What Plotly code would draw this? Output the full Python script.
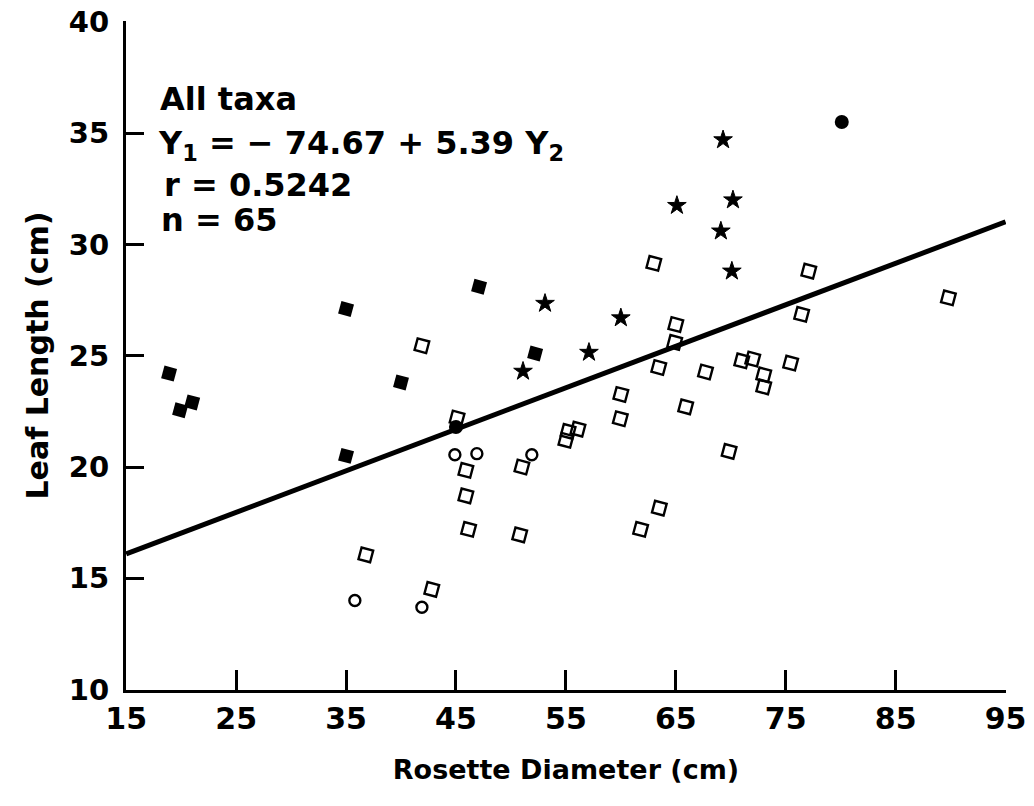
import plotly.graph_objects as go

# --- data ---
filled_sq_x = [35.0, 18.9, 19.9, 21.0, 40.0, 35.0, 47.1, 52.2]
filled_sq_y = [27.1, 24.2, 22.55, 22.9, 23.8, 20.5, 28.1, 25.1]

filled_circ_x = [45.0, 80.1]
filled_circ_y = [21.8, 35.5]

star_x = [53.1, 60.0, 57.1, 51.1, 70.1, 69.3, 70.2, 65.1, 69.1]
star_y = [27.35, 26.7, 25.15, 24.3, 28.8, 34.7, 32.0, 31.75, 30.6]

open_circ_x = [44.9, 46.9, 51.9, 35.8, 41.9]
open_circ_y = [20.55, 20.6, 20.55, 14.0, 13.7]

open_sq_x = [45.1, 41.9, 51.0, 45.9, 45.9, 46.15, 50.8, 36.8, 42.8,
             63.0, 65.0, 64.9, 63.45, 60.0, 65.9, 59.95, 55.2, 56.1, 55.0,
             77.1, 76.45, 67.7, 71.0, 72.0, 73.0, 73.0, 75.45, 69.85,
             63.5, 61.8, 89.8]
open_sq_y = [22.2, 25.45, 20.0, 19.85, 18.7, 17.2, 16.95, 16.05, 14.5,
             29.15, 26.4, 25.6, 24.47, 23.26, 22.7, 22.17, 21.6, 21.7, 21.2,
             28.8, 26.86, 24.27, 24.77, 24.85, 24.14, 23.6, 24.67, 20.7,
             18.15, 17.2, 27.6]

fit_intercept = 13.3
fit_slope = 0.1865
fit_x = [15, 95]
fit_y = [fit_intercept + fit_slope * v for v in fit_x]

x_ticks = [15, 25, 35, 45, 55, 65, 75, 85, 95]
y_ticks = [10, 15, 20, 25, 30, 35, 40]

FONT = "DejaVu Sans"

fig = go.Figure()
fig.add_trace(go.Scatter(x=fit_x, y=fit_y, mode="lines",
                         line=dict(color="black", width=5), showlegend=False))
fig.add_trace(go.Scatter(x=open_sq_x, y=open_sq_y, mode="markers", showlegend=False,
                         marker=dict(symbol="square-open", size=12, color="black",
                                     angle=15, line=dict(width=2.4, color="black"))))
fig.add_trace(go.Scatter(x=open_circ_x, y=open_circ_y, mode="markers", showlegend=False,
                         marker=dict(symbol="circle-open", size=11, color="black",
                                     line=dict(width=2.4, color="black"))))
fig.add_trace(go.Scatter(x=filled_sq_x, y=filled_sq_y, mode="markers", showlegend=False,
                         marker=dict(symbol="square", size=13, color="black", angle=15)))
fig.add_trace(go.Scatter(x=filled_circ_x, y=filled_circ_y, mode="markers", showlegend=False,
                         marker=dict(symbol="circle", size=14, color="black")))
fig.add_trace(go.Scatter(x=star_x, y=star_y, mode="markers", showlegend=False,
                         marker=dict(symbol="star", size=14, color="black",
                                     line=dict(width=1, color="black"))))

W, H = 1034, 806
L, T = 126, 21
R = W - 1006
B = H - 690
pw, ph = W - L - R, H - T - B

def px(xp):
    return (xp - L) / pw

def py(yp):
    return (H - B - yp) / ph

texts = [
    ("All taxa", 158, 99),
    ("Y<sub>1</sub> = − 74.67 + 5.39 Y<sub>2</sub>", 156, 145),
    ("r = 0.5242", 162, 185),
    ("n = 65", 159, 220),
]
for t, xx, yy in texts:
    fig.add_annotation(text=t, xref="paper", yref="paper", x=px(xx), y=py(yy),
                       xanchor="left", yanchor="middle", showarrow=False,
                       font=dict(family=FONT, size=32, color="black", weight="bold"))

fig.update_layout(
    width=W, height=H,
    margin=dict(l=L, r=R, t=T, b=B, autoexpand=False),
    plot_bgcolor="white", paper_bgcolor="white",
    font=dict(family=FONT, color="black"),
    xaxis=dict(range=[14.98, 95.04], tickvals=x_ticks, ticktext=[str(v) for v in x_ticks],
               ticks="inside", ticklen=20, tickwidth=2.5, tickcolor="black",
               showline=True, linewidth=3, linecolor="black", showgrid=False,
               zeroline=False, ticklabelstandoff=0, automargin=False,
               ticklabeloverflow="allow",
               tickfont=dict(family=FONT, size=30, weight="bold"),
               title=dict(text="Rosette Diameter (cm)", standoff=26,
                          font=dict(family=FONT, size=27, weight="bold"))),
    yaxis=dict(range=[9.98, 40.04], tickvals=y_ticks, ticktext=[str(v) for v in y_ticks],
               ticks="inside", ticklen=18, tickwidth=2.5, tickcolor="black",
               showline=True, linewidth=3, linecolor="black", showgrid=False,
               zeroline=False, ticklabelstandoff=8, automargin=False,
               ticklabeloverflow="allow",
               tickfont=dict(family=FONT, size=29, weight="bold"),
               title=dict(text="Leaf Length (cm)", standoff=12,
                          font=dict(family=FONT, size=30, weight="bold"))),
)

fig.write_html("out.html", config={"displayModeBar": False},
               post_script="document.body.style.margin='0';document.body.style.overflow='hidden';")
